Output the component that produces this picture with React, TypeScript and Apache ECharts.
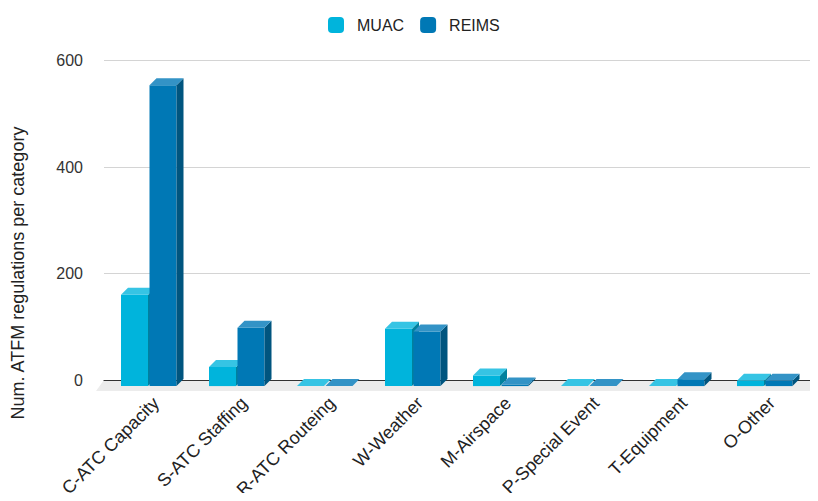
import React, { useEffect, useRef } from "react";
import * as echarts from "echarts";

const categories = [
  "C-ATC Capacity",
  "S-ATC Staffing",
  "R-ATC Routeing",
  "W-Weather",
  "M-Airspace",
  "P-Special Event",
  "T-Equipment",
  "O-Other",
];
const muac = [172, 36, 0, 108, 20, 0, 0, 10];
const reims = [567, 110, 0, 103, 3, 0, 13, 10];
const seriesNames = ["MUAC", "REIMS"];
const yName = "Num. ATFM regulations per category";

const COLORS = [
  { front: "#00b4dc", top: "#36c4e4", side: "#00819e" },
  { front: "#0078b5", top: "#3393c6", side: "#00557f" },
];
const DX = 7;
const DY = 7;
const FONT = "Liberation Sans, Arial, sans-serif";

function makeRender(s: number) {
  return (params: any, api: any) => {
    const idx = api.value(0);
    const val = api.value(1);
    const top = api.coord([idx, val]);
    const base = api.coord([idx, 0]);
    const cx = top[0] - DX;
    const x0 = cx + (s === 0 ? -28 : 0.5);
    const x1 = cx + (s === 0 ? -1 : 27.5);
    const yT = top[1] + DY;
    const yB = base[1] + DY;
    const c = COLORS[s];
    return {
      type: "group",
      children: [
        {
          type: "polygon",
          shape: { points: [[x0, yT], [x1, yT], [x1, yB], [x0, yB]] },
          style: { fill: c.front },
        },
        {
          type: "polygon",
          shape: { points: [[x1, yT], [x1 + DX, yT - DY], [x1 + DX, yB - DY], [x1, yB]] },
          style: { fill: c.side },
        },
        {
          type: "polygon",
          shape: { points: [[x0, yT], [x1, yT], [x1 + DX, yT - DY], [x0 + DX, yT - DY]] },
          style: { fill: c.top },
        },
      ],
    };
  };
}

export default function App() {
  const ref = useRef<HTMLDivElement>(null);
  useEffect(() => {
    const chart = echarts.init(ref.current!, null, { renderer: "svg" });
    const gridTop = 60.7;
    const gridBottom = 121;
    chart.setOption({
      animation: false,
      backgroundColor: "#ffffff",
      legend: {
        data: seriesNames,
        left: 323,
        top: 12,
        icon: "roundRect",
        itemWidth: 16,
        itemHeight: 16,
        itemGap: 16,
        textStyle: { fontFamily: FONT, fontSize: 16, color: "#222", padding: [0, 0, 0, 8] },
      },
      grid: [
        { left: 104, right: 0, top: gridTop, bottom: gridBottom },
        { left: 112, width: 704, top: gridTop, bottom: gridBottom },
      ],
      xAxis: [
        {
          gridIndex: 0,
          type: "category",
          data: categories,
          axisLine: { show: true, lineStyle: { color: "#333", width: 1.2 } },
          axisTick: { show: false },
          axisLabel: { show: false },
        },
        {
          gridIndex: 1,
          type: "category",
          data: categories,
          axisLine: { show: false },
          axisTick: { show: false },
          axisLabel: {
            rotate: 45,
            margin: 21,
            fontFamily: FONT,
            fontSize: 18,
            color: "#222",
            interval: 0,
          },
        },
      ],
      yAxis: [
        {
          gridIndex: 0,
          type: "value",
          min: 0,
          max: 600,
          interval: 200,
          axisLine: { show: false },
          axisTick: { show: false },
          axisLabel: { margin: 21, fontFamily: FONT, fontSize: 16, color: "#333" },
          splitLine: { lineStyle: { color: "#d4d4d4", width: 1 } },
        },
        {
          gridIndex: 1,
          type: "value",
          min: 0,
          max: 600,
          interval: 200,
          axisLine: { show: false },
          axisTick: { show: false },
          axisLabel: { show: false },
          splitLine: { show: false },
        },
      ],
      graphic: [
        {
          type: "polygon",
          z: -1,
          shape: { points: [[104, 380], [818, 380], [810, 391], [96, 391]] },
          style: { fill: "#ececec" },
        },
        {
          type: "text",
          x: 18,
          y: 273,
          rotation: Math.PI / 2,
          style: {
            text: yName,
            fontFamily: FONT,
            fontSize: 18,
            fill: "#222",
            textAlign: "center",
            textVerticalAlign: "middle",
          },
        },
      ],
      series: [muac, reims].map((arr, s) => ({
        name: seriesNames[s],
        type: "custom",
        xAxisIndex: 1,
        yAxisIndex: 1,
        itemStyle: { color: COLORS[s].front },
        encode: { x: 0, y: 1 },
        data: arr.map((v, i) => [i, v]),
        renderItem: makeRender(s),
      })),
    });
    return () => chart.dispose();
  }, []);
  return <div ref={ref} style={{ width: 818, height: 501, margin: -8 }} />;
}
